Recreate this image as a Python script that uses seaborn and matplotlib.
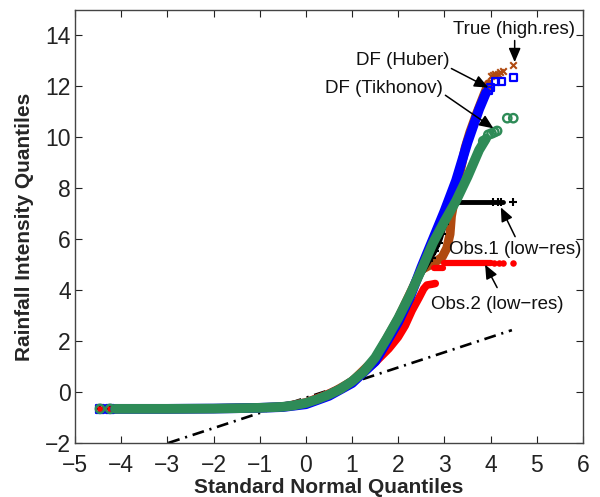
import matplotlib
matplotlib.use("Agg")
import matplotlib.pyplot as plt
import seaborn as sns

sns.set_theme(style="ticks")
plt.rcParams["font.family"] = ["Liberation Sans", "DejaVu Sans"]

# ---- QQ data: standard normal quantiles (x) vs rainfall intensity quantiles (y) ----
# True (high.res)
true_x = [-4.13, -3.0, -2.0, -1.0, -0.5, 0.0, 0.5, 1.0, 1.5, 2.0, 2.25, 2.5, 2.8,
          2.95, 3.05, 3.12, 3.15, 3.2, 3.3, 3.45, 3.55, 3.7, 3.85, 3.95]
true_y = [-0.66, -0.66, -0.65, -0.62, -0.58, -0.44, -0.1, 0.42, 1.3, 2.9, 3.85, 4.8, 5.1,
          5.3, 5.65, 6.2, 6.9, 7.4, 8.3, 9.6, 10.2, 10.95, 11.65, 12.1]
true_pts_x = [-4.46, -4.24, 4.0, 4.05, 4.1, 4.15, 4.2, 4.27, 4.49]
true_pts_y = [-0.66, -0.66, 12.4, 12.45, 12.5, 12.5, 12.55, 12.6, 12.82]

# Obs.1 (low-res)
obs1_x = [-4.13, -3.0, -2.0, -1.0, -0.5, 0.0, 0.5, 1.0, 1.5, 2.0, 2.4, 2.69, 2.8,
          2.91, 3.0, 3.06, 3.15, 3.22, 3.28]
obs1_y = [-0.66, -0.66, -0.65, -0.62, -0.58, -0.44, -0.1, 0.42, 1.3, 2.8, 4.3, 5.2, 5.55,
          6.0, 6.55, 7.0, 7.2, 7.32, 7.4]
obs1_flat_x = [3.28, 4.27]
obs1_flat_y = [7.45, 7.45]
obs1_pts_x = [-4.46, -4.24, 2.72, 2.8, 2.88, 2.95, 3.02, 3.1, 3.18, 4.05, 4.15, 4.22, 4.49]
obs1_pts_y = [-0.66, -0.66, 5.25, 5.55, 5.85, 6.2, 6.6, 7.05, 7.25, 7.45, 7.45, 7.45, 7.45]

# Obs.2 (low-res)
obs2_x = [-4.13, -3.0, -2.0, -1.0, -0.5, 0.0, 0.4, 0.8, 1.2, 1.5, 1.8, 2.0, 2.15, 2.3,
          2.45, 2.55, 2.62, 2.72, 2.8]
obs2_y = [-0.66, -0.66, -0.65, -0.62, -0.57, -0.39, -0.12, 0.2, 0.72, 1.15, 1.7, 2.15, 2.6, 3.2,
          3.7, 4.05, 4.2, 4.23, 4.26]
obs2_step1_x = [2.78, 2.96]
obs2_step1_y = [4.86, 4.86]
obs2_step2_x = [2.98, 4.0]
obs2_step2_y = [5.06, 5.06]
obs2_pts_x = [-4.46, -4.24, 4.08, 4.17, 4.27, 4.49]
obs2_pts_y = [-0.66, -0.66, 5.06, 5.06, 5.06, 5.06]

# DF (Huber)
hub_x = [-4.13, -3.0, -2.0, -1.0, -0.5, 0.0, 0.5, 1.0, 1.5, 2.0, 2.25, 2.5, 2.75, 3.0,
         3.25, 3.5, 3.75, 3.9]
hub_y = [-0.66, -0.66, -0.65, -0.62, -0.59, -0.48, -0.15, 0.35, 1.2, 2.75, 3.7, 4.9, 6.0, 7.1,
         8.3, 9.8, 11.1, 11.75]
hub_pts_x = [-4.46, -4.24, 3.95, 3.99, 4.1, 4.23, 4.49]
hub_pts_y = [-0.66, -0.66, 11.85, 11.96, 12.2, 12.2, 12.35]

# DF (Tikhonov)
tik_x = [-4.13, -3.0, -2.0, -1.0, -0.5, -0.25, 0.0, 0.25, 0.5, 0.75, 1.0, 1.25, 1.5, 1.75,
         2.0, 2.25, 2.5, 2.75, 3.0, 3.25, 3.5, 3.75, 3.9]
tik_y = [-0.66, -0.66, -0.65, -0.62, -0.58, -0.52, -0.43, -0.28, -0.1, 0.12, 0.42, 0.8, 1.35, 2.1,
         2.9, 3.8, 4.8, 5.85, 6.7, 7.5, 8.45, 9.5, 9.95]
tik_pts_x = [-4.46, -4.24, 3.84, 3.95, 4.02, 4.08, 4.14, 4.36, 4.49]
tik_pts_y = [-0.66, -0.66, 9.85, 10.1, 10.15, 10.2, 10.25, 10.75, 10.75]

# Reference line (dash-dot)
ref_x = [-2.98, 4.46]
ref_y = [-2.0, 2.43]

# Annotations: label, text position, arrow tail, arrow tip
labels = ["True (high.res)", "DF (Huber)", "DF (Tikhonov)", "Obs.1 (low\u2212res)", "Obs.2 (low\u2212res)"]
label_pos = [(4.51, 14.24), (2.1, 13.02), (1.68, 11.92), (4.53, 5.59), (4.15, 3.43)]
arrow_tail = [(4.52, 13.8), (3.15, 12.7), (3.02, 11.65), (4.53, 6.1), (4.14, 4.1)]
arrow_tip = [(4.52, 12.95), (3.95, 11.95), (4.06, 10.35), (4.22, 7.25), (3.88, 5.0)]

xticks = list(range(-5, 7))
yticks = list(range(-2, 15, 2))

c_true = "#B04A10"
c_obs1 = "black"
c_obs2 = "#FF0000"
c_hub = "#0000FF"
c_tik = "#2E8B57"

fig = plt.figure(figsize=(6.0, 4.97), dpi=100)
ax = fig.add_axes([0.125, 0.1087, 0.8467, 0.8713])


def band(x, y, color, lw, z):
    sns.lineplot(x=x, y=y, sort=False, estimator=None, color=color, linewidth=lw,
                 solid_capstyle="round", ax=ax, zorder=z)


def points(x, y, color, marker, s, lw, z, hollow=False):
    sns.scatterplot(x=x, y=y, marker=marker, s=s, color=color, linewidth=lw, ax=ax,
                    zorder=z)
    pc = ax.collections[-1]
    if hollow:
        pc.set_facecolor("none")
        pc.set_edgecolor(color)
    pc.set_zorder(z)


# reference line underneath the data
sns.lineplot(x=ref_x, y=ref_y, color="black", linewidth=1.9, ax=ax,
             linestyle=(0, (4.5, 2.2, 0.8, 2.2)), zorder=1)

# True
band(true_x, true_y, c_true, 6.5, 2)
points(true_pts_x, true_pts_y, c_true, "x", 22, 1.5, 2.1)

# Obs.1
band(obs1_x, obs1_y, c_obs1, 3.5, 3)
band(obs1_flat_x, obs1_flat_y, c_obs1, 3.5, 3)
points(obs1_pts_x, obs1_pts_y, c_obs1, "+", 40, 1.5, 3.1)

# Obs.2
band(obs2_x, obs2_y, c_obs2, 5.5, 4)
band(obs2_step1_x, obs2_step1_y, c_obs2, 4.5, 4)
band(obs2_step2_x, obs2_step2_y, c_obs2, 4.5, 4)
points(obs2_pts_x, obs2_pts_y, c_obs2, "o", 22, 0, 4.1)

# DF (Huber)
band(hub_x, hub_y, c_hub, 7.0, 5)
points(hub_pts_x, hub_pts_y, c_hub, "s", 28, 1.6, 5.1, hollow=True)

# DF (Tikhonov)
band(tik_x, tik_y, c_tik, 7.0, 6)
points(tik_pts_x, tik_pts_y, c_tik, "o", 36, 1.7, 6.1, hollow=True)

for lab, tp, tail, tip in zip(labels, label_pos, arrow_tail, arrow_tip):
    ax.text(tp[0], tp[1], lab, ha="center", va="center", fontsize=13.5, color="#111111",
            zorder=10)
    ax.annotate("", xy=tip, xytext=tail,
                arrowprops=dict(arrowstyle="-|>,head_length=0.7,head_width=0.3",
                                color="black", lw=1.1, mutation_scale=12,
                                shrinkA=0, shrinkB=0),
                zorder=10)

ax.set_xlim(-5, 6)
ax.set_ylim(-2, 15)
ax.set_xticks(xticks)
ax.set_yticks(yticks)
ax.tick_params(direction="in", top=True, right=True, length=5, width=0.8,
               labelsize=16.5, colors="#222222")
ax.tick_params(axis="x", pad=8)
ax.tick_params(axis="y", pad=3)
for sp in ax.spines.values():
    sp.set_color("#444444")
    sp.set_linewidth(1.0)
    sp.set_visible(True)
ax.set_xlabel("Standard Normal Quantiles", fontsize=15, fontweight="bold", labelpad=1)
ax.set_ylabel("Rainfall Intensity Quantiles", fontsize=15, fontweight="bold", labelpad=8)
ax.set_facecolor("white")
fig.patch.set_facecolor("white")

fig.savefig("out.png", dpi=100)
